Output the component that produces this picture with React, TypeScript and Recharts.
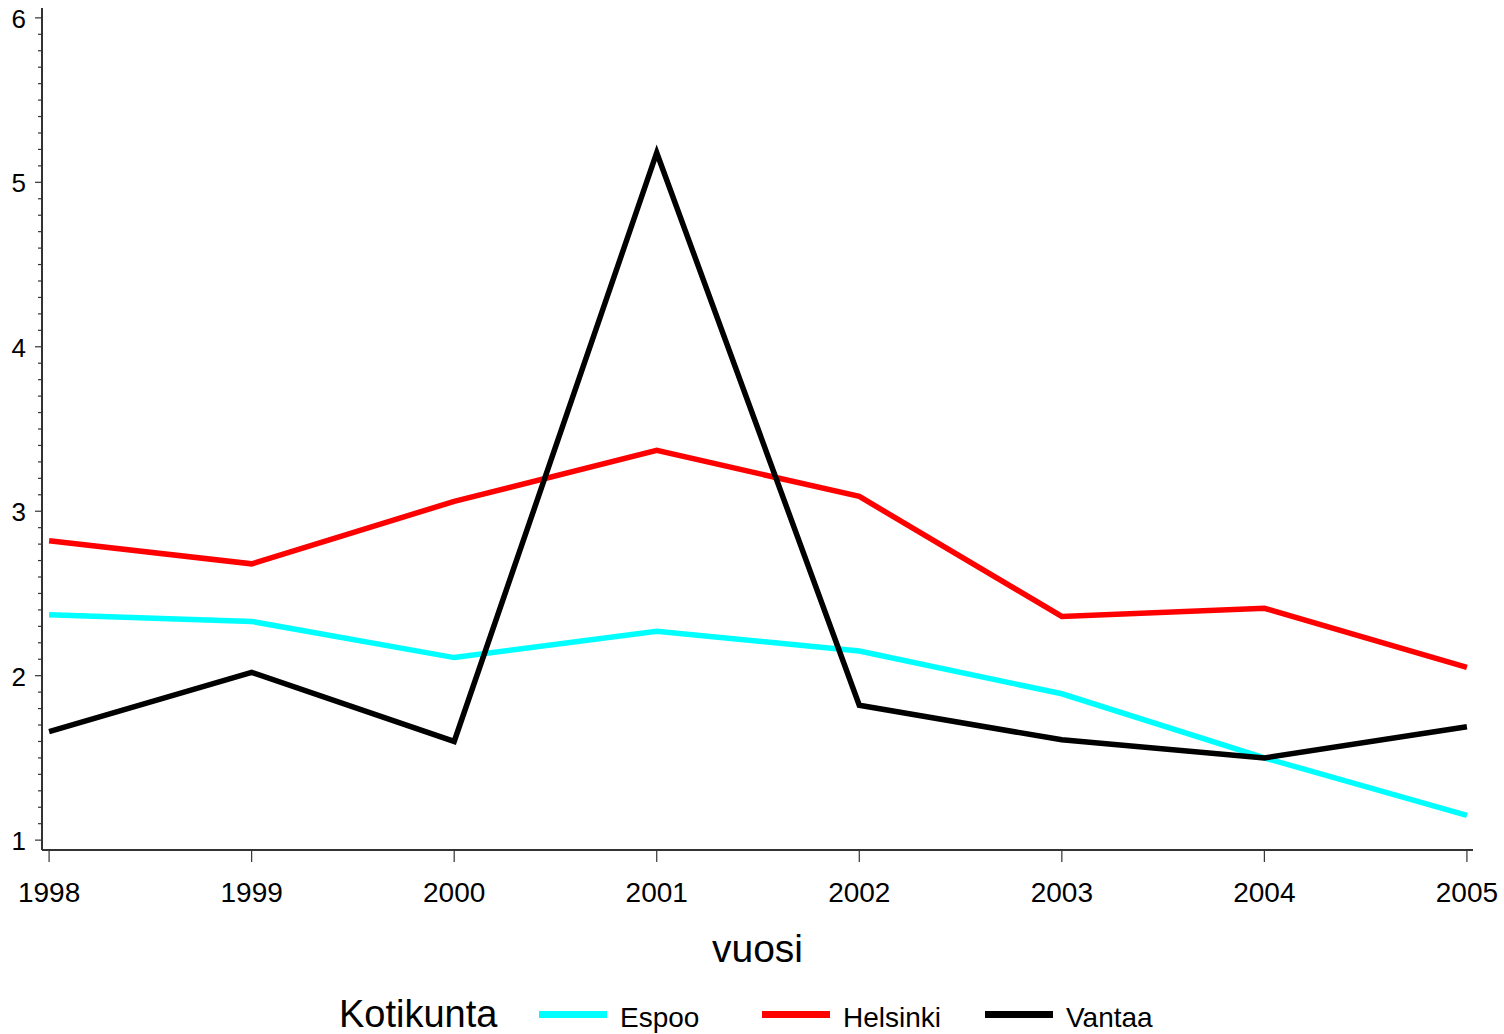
import { LineChart, Line, XAxis, YAxis, Label, Legend } from "recharts";

// vuosi / kotikunta values
const years = [1998, 1999, 2000, 2001, 2002, 2003, 2004, 2005];
const espoo = [2.37, 2.33, 2.11, 2.27, 2.15, 1.89, 1.5, 1.15];
const helsinki = [2.82, 2.68, 3.06, 3.37, 3.09, 2.36, 2.41, 2.05];
const vantaa = [1.66, 2.02, 1.6, 5.18, 1.82, 1.61, 1.5, 1.69];

const yMajorTicks = [1, 2, 3, 4, 5, 6];
// minor ticks every 0.1 between the labelled ones
const yTicks = Array.from({ length: 51 }, (_, i) => Math.round((1 + i * 0.1) * 10) / 10);

const seriesInfo = [
  { key: "Espoo", color: "#00ffff" },
  { key: "Helsinki", color: "#ff0000" },
  { key: "Vantaa", color: "#000000" },
];

const data = years.map((y, i) => ({
  vuosi: y,
  Espoo: espoo[i],
  Helsinki: helsinki[i],
  Vantaa: vantaa[i],
}));

const FONT = "Arial, 'Liberation Sans', sans-serif";
const AXIS = "#333";

const YTick = (props: any) => {
  const { x, y, payload } = props;
  const v = payload.value;
  const major = yMajorTicks.includes(v);
  const axisX = x + 16; // tickSize 7 + tickMargin 9
  return (
    <g>
      <line
        x1={axisX - (major ? 7 : 4)}
        x2={axisX}
        y1={y}
        y2={y}
        stroke={AXIS}
        strokeWidth={1.2}
      />
      {major && (
        <text
          x={x}
          y={y}
          dy={10}
          textAnchor="end"
          fontSize={26}
          fontFamily={FONT}
          fill="#000"
        >
          {v}
        </text>
      )}
    </g>
  );
};

const LegendBox = () => (
  <div
    style={{
      display: "flex",
      alignItems: "center",
      height: 40,
      paddingLeft: 339,
      fontFamily: FONT,
      color: "#000",
    }}
  >
    <span style={{ fontSize: 38, width: 200 }}>Kotikunta</span>
    {seriesInfo.map((s) => (
      <div key={s.key} style={{ display: "flex", alignItems: "center", width: 223 }}>
        <div style={{ width: 68, height: 7, background: s.color, marginRight: 13 }} />
        <span style={{ fontSize: 28, marginTop: 8 }}>{s.key}</span>
      </div>
    ))}
  </div>
);

export default function App() {
  return (
    <div style={{ position: "absolute", left: 0, top: 0, background: "#fff" }}>
      <LineChart
        width={1504}
        height={1034}
        data={data}
        margin={{ top: 8, right: 31, left: 0, bottom: 0 }}
      >
        <XAxis
          xAxisId="x"
          dataKey="vuosi"
          type="number"
          domain={[1997.965, 2005.03]}
          ticks={years}
          interval={0}
          height={144}
          tickSize={12}
          tickMargin={20}
          axisLine={{ stroke: AXIS, strokeWidth: 2 }}
          tickLine={{ stroke: AXIS, strokeWidth: 1.2 }}
          tick={{ fill: "#000", fontSize: 28, fontFamily: FONT }}
        >
          <Label
            value="vuosi"
            position="insideTop"
            offset={84}
            style={{ fill: "#000", fontSize: 39, fontFamily: FONT }}
          />
        </XAxis>
        <XAxis
          xAxisId="top"
          orientation="top"
          type="number"
          domain={[0, 1]}
          height={0}
          tick={false}
          tickLine={false}
          axisLine={{ stroke: AXIS, strokeWidth: 1.5 }}
        />
        <YAxis
          yAxisId="y"
          type="number"
          domain={[0.94, 6.06]}
          ticks={yTicks}
          interval={0}
          width={42}
          tickSize={7}
          tickMargin={9}
          tickLine={false}
          axisLine={{ stroke: AXIS, strokeWidth: 2 }}
          tick={<YTick />}
        />
        <YAxis
          yAxisId="right"
          orientation="right"
          type="number"
          domain={[0, 1]}
          width={0}
          tick={false}
          tickLine={false}
          axisLine={{ stroke: "#000", strokeWidth: 1.5 }}
        />
        {seriesInfo.map((s) => (
          <Line
            key={s.key}
            xAxisId="x"
            yAxisId="y"
            type="linear"
            dataKey={s.key}
            stroke={s.color}
            strokeWidth={5.5}
            dot={false}
            activeDot={false}
            isAnimationActive={false}
          />
        ))}
        <Legend
          verticalAlign="bottom"
          height={40}
          wrapperStyle={{ left: 0, bottom: 0, width: 1504 }}
          content={<LegendBox />}
        />
      </LineChart>
    </div>
  );
}
